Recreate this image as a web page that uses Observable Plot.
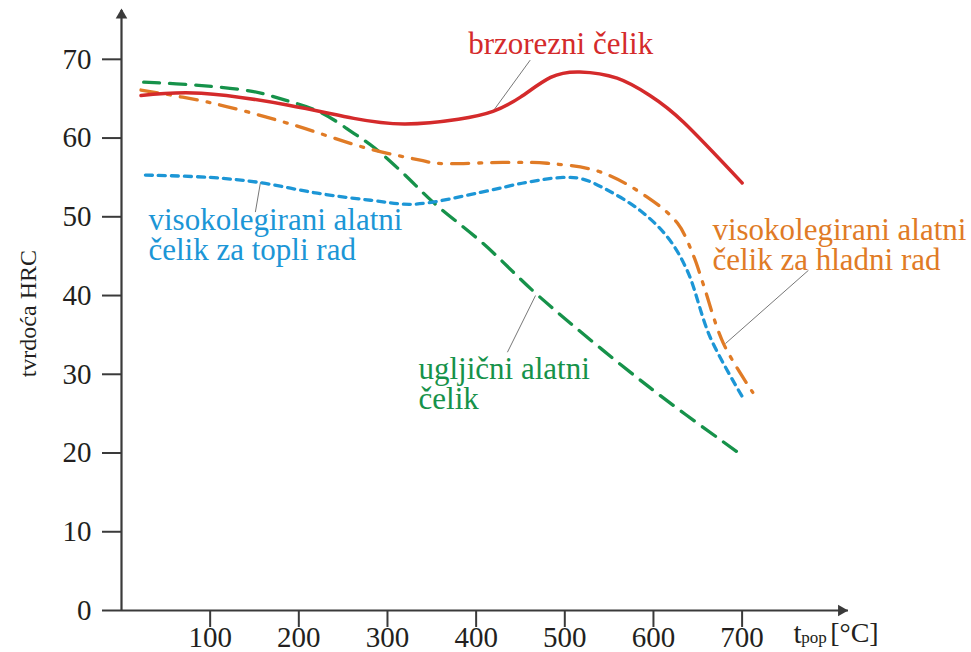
<!DOCTYPE html>
<html>
<head>
<meta charset="utf-8">
<script src="https://cdn.jsdelivr.net/npm/d3@7"></script>
<script src="https://cdn.jsdelivr.net/npm/@observablehq/plot@0.6"></script>
<style>
  html, body { margin: 0; padding: 0; background: #fff; }
  #chart svg { display: block; }
</style>
</head>
<body>
<div id="chart"></div>
<script>
// ---- data (temperature °C, hardness HRC) ----
const redT    = [22, 90, 187, 262, 320, 380, 419, 450, 484, 517, 559, 596, 634, 700];
const redH    = [65.4, 65.7, 64.2, 62.5, 61.8, 62.4, 63.4, 65.2, 67.7, 68.4, 67.6, 65.4, 62.0, 54.3];

const greenT  = [25, 87, 149, 179, 224, 262, 286, 318, 352, 408, 472, 596, 700];
const greenH  = [67.1, 66.7, 65.9, 65.0, 63.3, 60.6, 58.7, 55.5, 51.8, 46.6, 39.8, 28.3, 19.7];

const orangeT = [22, 100, 187, 277, 337, 356, 431, 480, 540, 593, 627, 645, 656, 679, 712];
const orangeH = [66.1, 64.5, 61.9, 58.7, 57.2, 56.8, 56.9, 56.8, 55.7, 52.5, 49.2, 45.1, 41.5, 33.9, 27.7];

const blueT   = [27, 100, 153, 221, 281, 330, 405, 458, 498, 520, 548, 585, 616, 638, 664, 701];
const blueH   = [55.3, 55.0, 54.4, 53.0, 52.1, 51.6, 53.1, 54.4, 55.0, 54.8, 53.4, 50.8, 47.4, 43.2, 34.7, 27.0];

const xTicks = [100, 200, 300, 400, 500, 600, 700];
const yTicks = [0, 10, 20, 30, 40, 50, 60, 70];

const labelTexts = ["brzorezni čelik", "visokolegirani alatni\nčelik za topli rad", "visokolegirani alatni\nčelik za hladni rad", "ugljični alatni\nčelik"];
const labelT = [391, 30.4, 666.5, 335];
const labelH = [71.9, 47.6, 46.4, 28.7];
const labelColors = ["#d42a2b", "#1c96d6", "#e07b26", "#16924a"];

// leader lines: from curve point to label
const leadT1 = [419, 156.8, 681.2, 467];
const leadH1 = [63.4, 54.4, 33.9, 40.0];
const leadT2 = [461, 151, 774.8, 435.3];
const leadH2 = [69.9, 50.6, 43.2, 32.8];

const yTitle = "tvrdoća HRC";
const xTitleMain = "t", xTitleSub = "pop", xTitleUnit = "[°C]";

// ---- build tables ----
const rows = (T, H) => T.map((t, i) => ({t, h: H[i]}));
const red = rows(redT, redH), green = rows(greenT, greenH), orange = rows(orangeT, orangeH), blue = rows(blueT, blueH);
const labels = labelTexts.map((s, i) => ({s, t: labelT[i], h: labelH[i], c: labelColors[i]}));
const leaders = leadT1.map((t, i) => ({t1: t, h1: leadH1[i], t2: leadT2[i], h2: leadH2[i]}));

const axisColor = "#3a3a3a";
const serif = "Liberation Serif, Times New Roman, serif";

const chart = Plot.plot({
  width: 971,
  height: 652,
  marginLeft: 121,
  marginRight: 123,
  marginTop: 10,
  marginBottom: 42,
  style: {fontFamily: serif, background: "#fff", color: "#231f20"},
  x: {domain: [0, 820]},
  y: {domain: [0, 76.2]},
  marks: [
    Plot.axisX({ticks: xTicks, tickSize: 17, tickPadding: -1, fontSize: 29, fontFamily: serif, stroke: axisColor, strokeWidth: 2, label: null}),
    Plot.axisY({ticks: yTicks, tickSize: 19, tickPadding: 11, fontSize: 29, fontFamily: serif, stroke: axisColor, strokeWidth: 2, label: null}),
    Plot.ruleY([0], {stroke: axisColor, strokeWidth: 2.2}),
    Plot.ruleX([0], {stroke: axisColor, strokeWidth: 2.2}),
    Plot.dot([{t: 812, h: 0}], {x: "t", y: "h", symbol: "triangle", r: 4.3, fill: axisColor, stroke: null, rotate: 90}),
    Plot.dot([{t: 0, h: 75.6}], {x: "t", y: "h", symbol: "triangle", r: 4.3, fill: axisColor, stroke: null}),
    Plot.link(leaders, {x1: "t1", y1: "h1", x2: "t2", y2: "h2", stroke: "#777", strokeWidth: 1}),
    Plot.line(green, {x: "t", y: "h", curve: "catmull-rom", stroke: "#16924a", strokeWidth: 3.3, strokeDasharray: "16,10"}),
    Plot.line(blue, {x: "t", y: "h", curve: "catmull-rom", stroke: "#1c96d6", strokeWidth: 3.3, strokeDasharray: "7,6"}),
    Plot.line(orange, {x: "t", y: "h", curve: "catmull-rom", stroke: "#e07b26", strokeWidth: 3.3, strokeDasharray: "17,10,3,10"}),
    Plot.line(red, {x: "t", y: "h", curve: "natural", stroke: "#d42a2b", strokeWidth: 3.5}),
    Plot.text(labels, {x: "t", y: "h", text: "s", fill: "c", textAnchor: "start", lineAnchor: "middle", fontSize: 31, fontFamily: serif, lineHeight: 30 / 31}),
    // axis titles
    Plot.text([yTitle], {x: -104.9, y: 37.7, rotate: -90, fontSize: 24, fontFamily: serif, fill: "#231f20", lineAnchor: "middle"}),
    Plot.text([xTitleMain], {x: 757.9, y: -2.9, textAnchor: "start", fontSize: 29, fontFamily: serif, fill: "#231f20"}),
    Plot.text([xTitleSub], {x: 766.8, y: -3.4, textAnchor: "start", fontSize: 17, fontFamily: serif, fill: "#231f20"}),
    Plot.text([xTitleUnit], {x: 799.3, y: -2.9, textAnchor: "start", fontSize: 28, fontFamily: serif, fill: "#231f20"})
  ]
});

document.getElementById("chart").appendChild(chart);
</script>
</body>
</html>
